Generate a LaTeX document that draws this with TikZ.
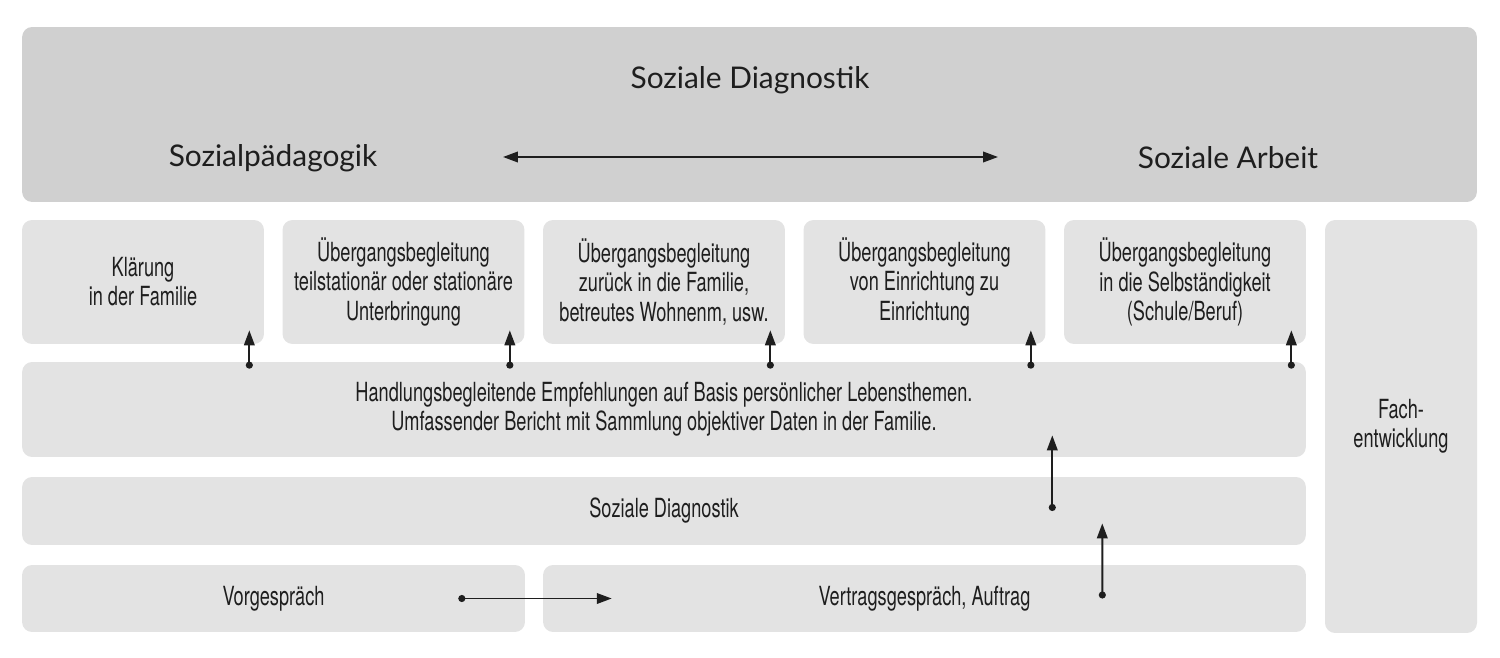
\documentclass[tikz,border=0pt]{standalone}
\usepackage{fontspec}
\usetikzlibrary{arrows.meta,positioning}
\newfontfamily\condfont{TeX Gyre Heros}[FakeStretch=0.69]
\newfontfamily\headfont{Lato}
\definecolor{headgray}{RGB}{208,208,208}
\definecolor{boxgray}{RGB}{227,227,227}
\definecolor{ink}{RGB}{30,30,30}
\tikzset{
  panel/.style={rectangle,rounded corners=0.2cm,fill=boxgray,inner sep=0pt,
    align=center,text=ink,font=\condfont\fontsize{15}{16.6}\selectfont},
  headlabel/.style={text=ink,font=\headfont\fontsize{17}{20}\selectfont},
  link/.style={ink,line width=1.1pt,{Circle[length=4pt]}-{Triangle[length=8.5pt,width=6pt]}},
  bothways/.style={ink,line width=1.1pt,{Triangle[length=8.5pt,width=6pt]}-{Triangle[length=8.5pt,width=6pt]}}
}

\begin{document}
\begin{tikzpicture}[x=0.02cm,y=-0.02cm]
\useasboundingbox (0,0) rectangle (1500,658);

% head
\node[panel,fill=headgray,minimum width=29.1cm,minimum height=3.5cm] (head) at (749.5,114.5) {};
\node[headlabel] (sd) at (750,80) {Soziale Diagnostik};
\node[headlabel] (sp) at (273,158) {Sozialpädagogik};
\node[headlabel] (sa) at (1228,158) {Soziale Arbeit};
\coordinate (spr) at (503,157);
\coordinate (sal) at (998,157);
\draw[bothways] (spr) -- (sal);

% transitions
\node[panel,minimum width=4.84cm,minimum height=2.48cm] (t1) at (143,282) {Klärung\\in der Familie};
\node[panel,minimum width=4.84cm,minimum height=2.48cm] (t2) at (403.5,282) {Übergangsbegleitung\\teilstationär oder stationäre\\Unterbringung};
\node[panel,minimum width=4.84cm,minimum height=2.48cm] (t3) at (664,282) {Übergangsbegleitung\\zurück in die Familie,\\betreutes Wohnenm, usw.};
\node[panel,minimum width=4.84cm,minimum height=2.48cm] (t4) at (924.5,282) {Übergangsbegleitung\\von Einrichtung zu\\Einrichtung};
\node[panel,minimum width=4.84cm,minimum height=2.48cm] (t5) at (1185,282) {Übergangsbegleitung\\in die Selbständigkeit\\(Schule/Beruf)};
\node[panel,minimum width=3.04cm,minimum height=8.26cm] (fach) at (1401,426.5) {Fach-\\entwicklung};

\node[panel,minimum width=25.68cm,minimum height=1.9cm] (hand) at (664,409.5) {Handlungsbegleitende Empfehlungen auf Basis persönlicher Lebensthemen.\\Umfassender Bericht mit Sammlung objektiver Daten in der Familie.};
\node[panel,minimum width=25.68cm,minimum height=1.36cm] (diag) at (664,511) {Soziale Diagnostik};
\node[panel,minimum width=10.06cm,minimum height=1.34cm] (vor) at (273.5,598.5) {Vorgespräch};
\node[panel,minimum width=15.26cm,minimum height=1.34cm] (vert) at (924.5,598.5) {Vertragsgespräch, Auftrag};

\foreach \t in {t1,t2,t3,t4,t5}
  \draw[link] ([xshift=-0.3cm,yshift=-0.14cm]hand.north -| \t.east) -- ([xshift=-0.3cm,yshift=0.28cm]\t.south east);

\draw[link] ([xshift=-5.08cm]diag.center -| hand.east) -- ([xshift=-5.08cm,yshift=0.44cm]hand.south east);
\draw[link] ([xshift=-4.08cm]vert.east) -- ([xshift=-4.08cm,yshift=0.44cm]diag.south east);
\draw[link] ([xshift=-1.34cm]vor.east) -- ([xshift=1.38cm]vert.west);
\end{tikzpicture}
\end{document}
